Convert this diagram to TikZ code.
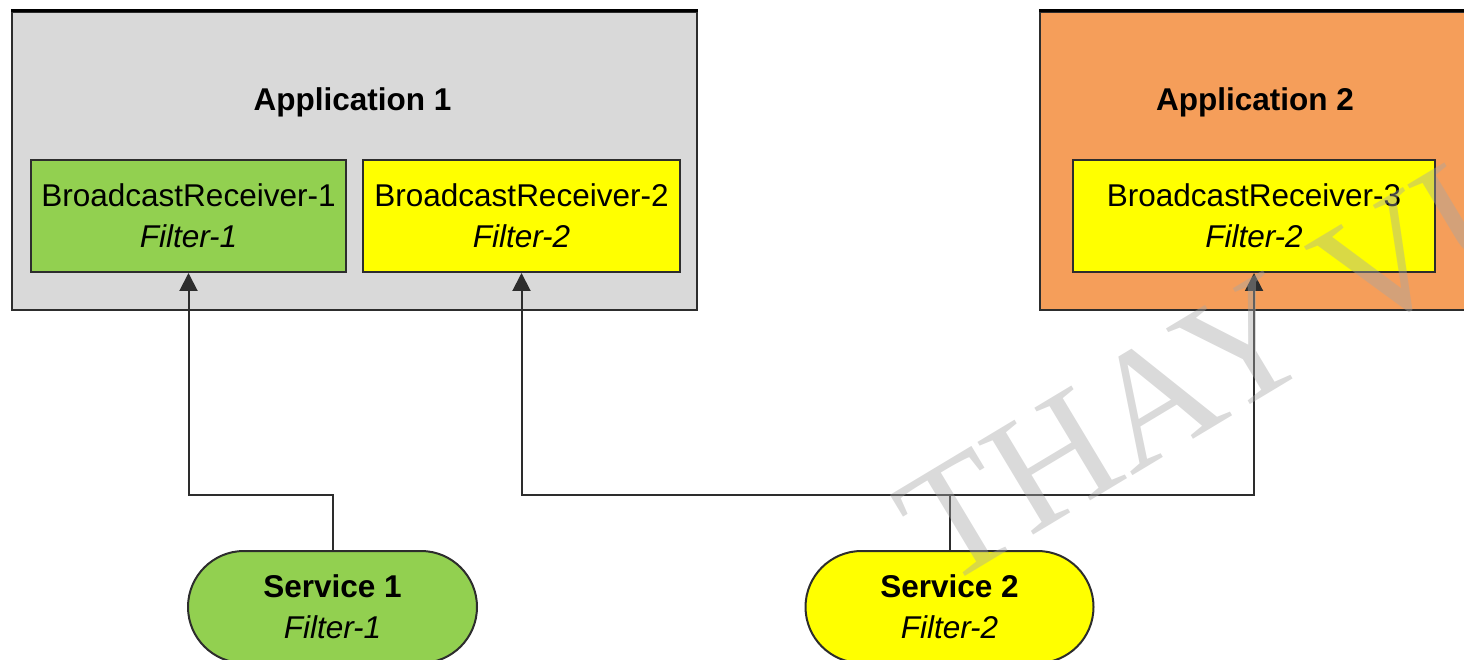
\documentclass[tikz,border=0pt]{standalone}
\usepackage{fontspec}
\setmainfont{Liberation Sans}
\newfontfamily\wmfont{Liberation Serif}
\usetikzlibrary{arrows.meta,shapes.misc}

\definecolor{appgray}{RGB}{217,217,217}
\definecolor{apporange}{RGB}{245,158,90}
\definecolor{rcvgreen}{RGB}{146,208,80}
\definecolor{rcvyellow}{RGB}{255,255,0}
\definecolor{edgegray}{RGB}{45,45,45}
\definecolor{wmgray}{RGB}{166,166,166}

\tikzset{
  every node/.style={font=\fontsize{31.5}{41}\selectfont, inner sep=0pt},
  appbox/.style={draw=edgegray, line width=2.5pt, rectangle},
  apptitle/.style={font=\fontsize{31.5}{41}\selectfont\bfseries},
  rcvbox/.style={draw=edgegray, line width=2pt, rectangle, align=center,
    minimum height=112pt},
  svcbox/.style={draw=edgegray, line width=2pt, rounded rectangle, align=center,
    minimum height=112pt},
  conn/.style={draw=edgegray, line width=2pt},
  arrowconn/.style={conn, -{Triangle[width=18pt,length=18pt]}},
  wmark/.style={font=\fontsize{165}{165}\selectfont\wmfont, text=wmgray,
    text opacity=0.42}
}

\begin{document}
\begin{tikzpicture}[x=1pt,y=-1pt]
\useasboundingbox (0,0) rectangle (1464,660);
\clip (0,0) rectangle (1464,660);

% application containers
\node[appbox, fill=appgray, minimum width=685pt, minimum height=298pt] (app1) at (354.5,161) {};
\node[appbox, fill=apporange, minimum width=428pt, minimum height=298pt] (app2) at (1254,161) {};
\draw[black, line width=3.5pt] (app1.north west) -- (app1.north east);
\draw[black, line width=3.5pt] (app2.north west) -- (app2.north east);

\node[apptitle] (app1t) at (352.5,102) {Application 1};
\node[apptitle] (app2t) at (1255,102) {Application 2};

% receivers
\node[rcvbox, fill=rcvgreen, minimum width=315pt] (br1) at (188.5,216)
  {BroadcastReceiver-1\\\itshape Filter-1};
\node[rcvbox, fill=rcvyellow, minimum width=317pt] (br2) at (521.5,216)
  {BroadcastReceiver-2\\\itshape Filter-2};
\node[rcvbox, fill=rcvyellow, minimum width=362pt] (br3) at (1254,216)
  {BroadcastReceiver-3\\\itshape Filter-2};

% services
\node[svcbox, fill=rcvgreen, minimum width=289pt] (s1) at (332.5,607)
  {\bfseries Service 1\\\itshape Filter-1};
\node[svcbox, fill=rcvyellow, minimum width=288pt] (s2) at (949.5,607)
  {\bfseries Service 2\\\itshape Filter-2};

% broadcast connectors
\coordinate (bus) at (0,495);
\draw[arrowconn] (s1.north) -- (s1.north |- bus) -| (br1.south);
\draw[conn] (s2.north) -- (s2.north |- bus);
\draw[arrowconn] (s2.north |- bus) -| (br2.south);
\draw[arrowconn] (s2.north |- bus) -| (br3.south);

% watermark
\node[wmark, rotate=31, anchor=base west] (wm) at (943,590) {THAY VU};
\end{tikzpicture}
\end{document}
